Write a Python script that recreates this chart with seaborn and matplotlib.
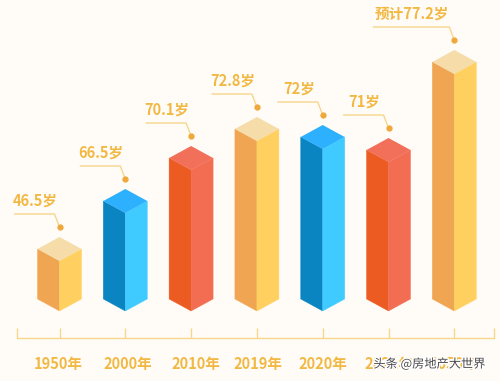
import matplotlib
matplotlib.use('Agg')
import matplotlib.pyplot as plt
import matplotlib.patheffects as pe
from matplotlib.transforms import Affine2D
import pandas as pd
import seaborn as sns

years = ['1950年', '2000年', '2010年', '2019年', '2020年', '2021年', '2050年']
age_labels = ['46.5岁', '66.5岁', '70.1岁', '72.8岁', '72岁', '71岁', '预计77.2岁']
# bar heights as drawn in the picture (not proportional to the ages)
bar_heights = [50, 98, 141, 170, 162, 149, 237]

left_colors = ['#F0A552', '#0A85C2', '#EC5B22', '#F0A552', '#0A85C2', '#EC5B22', '#F0A552']
right_colors = ['#FFD060', '#3FCBFF', '#F26D52', '#FFD060', '#3FCBFF', '#F26D52', '#FFD060']
top_colors = ['#F5DCA8', '#2DB1FF', '#F2705A', '#F5DCA8', '#2DB1FF', '#F2705A', '#F5DCA8']

BG = '#FFFCF7'
TEXT = '#F2B844'
LINE = '#F7D68C'
UNIT = 65.8  # pixels per category
BAR = 44 / UNIT
SLOPE = 12 / 22 * UNIT

sns.set_theme(style='white')
plt.rcParams['font.family'] = ['Noto Sans CJK SC', 'DejaVu Sans']

df = pd.DataFrame({
    'year': years * 2,
    'height': bar_heights * 2,
    'face': ['left'] * 7 + ['right'] * 7,
})

fig = plt.figure(figsize=(5, 3.81), dpi=100, facecolor=BG)
ax = fig.add_axes([0, 0, 1, 1], facecolor=BG)
sns.barplot(data=df, x='year', y='height', hue='face', hue_order=['left', 'right'],
            width=BAR, gap=0, saturation=1, legend=False, ax=ax)

# shear the two dodged rectangles into the faces of an isometric block
for side, container, colors in [(1, ax.containers[0], left_colors), (-1, ax.containers[1], right_colors)]:
    for i, bar in enumerate(container.patches):
        bar.set_facecolor(colors[i])
        bar.set_edgecolor(colors[i])
        bar.set_linewidth(0.3)
        bar.set_clip_on(False)
        bar.set_transform(Affine2D.from_values(1, -side * SLOPE, 0, 1, 0, side * SLOPE * i) + ax.transData)

half = BAR / 2
for i, h in enumerate(bar_heights):
    ax.fill([i - half, i, i + half, i], [h + SLOPE * half, h, h + SLOPE * half, h + 2 * SLOPE * half],
            color=top_colors[i], lw=0, zorder=3)

    # leader line, dot and label above each block
    dot_y = h + 2 * SLOPE * half + 10
    line_y = dot_y + 13
    length = 76 if i == 6 else 40
    elbow = i - 5 / UNIT
    start = elbow - length / UNIT
    ax.plot([start, elbow, i], [line_y, line_y, dot_y], color=LINE, lw=1, zorder=3)
    ax.plot(i, dot_y, 'o', color='#EFA83A', ms=3.5, zorder=4)
    ax.text((start + elbow) / 2 + 1 / UNIT, line_y + 13, age_labels[i], color=TEXT,
            fontsize=10.5, fontweight='bold', ha='center', va='center')

ax.set_xlim(-59.5 / UNIT, 440.5 / UNIT)
ax.set_ylim(-70, 311)
ax.set_xlabel('')
ax.set_ylabel('')
ax.set_yticks([])

left_end = -43 / UNIT
right_end = 434 / UNIT
ax.set_xticks([left_end] + list(range(7)) + [right_end])
ax.set_xticklabels([''] * 9)
ax.tick_params(axis='x', bottom=True, direction='in', length=7.2, width=1, color=LINE)

# the year labels sit slightly right of their ticks in the picture
for i, dx in enumerate([-1, 3, 5, 1, 0, 0, 0]):
    ax.text(i + dx / UNIT, -53, years[i], color=TEXT, fontsize=10.5, fontweight='bold',
            ha='center', va='center', clip_on=False)

for name in ['top', 'left', 'right']:
    ax.spines[name].set_visible(False)
ax.spines['bottom'].set_position(('data', -27))
ax.spines['bottom'].set_bounds(left_end, right_end)
ax.spines['bottom'].set_color(LINE)
ax.spines['bottom'].set_linewidth(1)

ax.text(370 / UNIT, -53, '头条 @房地产大世界', color='#4A4A4A', fontsize=8.8,
        ha='center', va='center', zorder=6,
        path_effects=[pe.withStroke(linewidth=2, foreground='white')])

fig.savefig('out.png', dpi=100, facecolor=BG)
